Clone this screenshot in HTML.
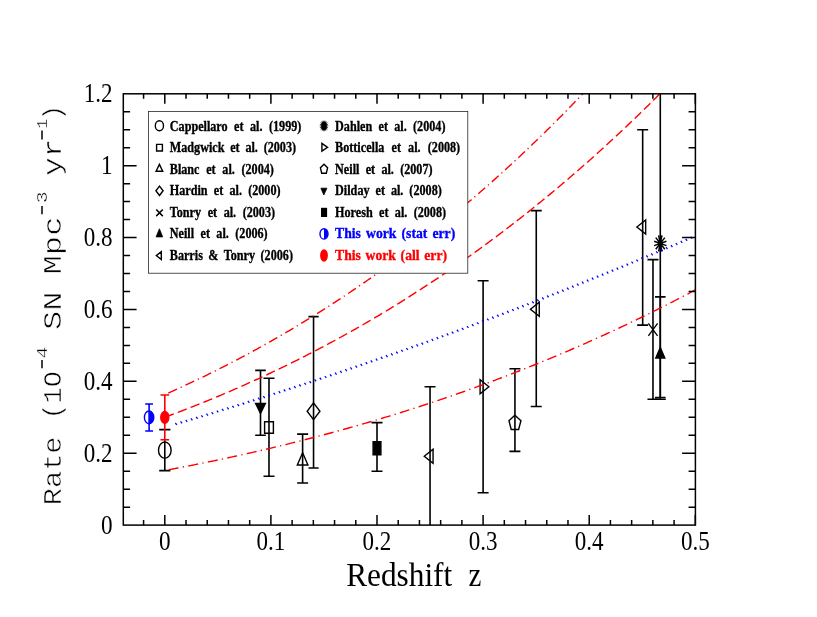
<!DOCTYPE html>
<html><head><meta charset="utf-8"><title>SN rate</title>
<style>html,body{margin:0;padding:0;background:#fff;}svg{display:block;will-change:transform;}text{font-family:"Liberation Serif",serif;}.m{font-family:"Liberation Mono",monospace;}</style></head><body>
<svg width="817" height="617" viewBox="0 0 817 617">
<rect width="817" height="617" fill="#fff"/>
<defs><clipPath id="cp"><rect x="123.3" y="93.8" width="572.1" height="431.3"/></clipPath></defs>
<g stroke="#000" stroke-width="1.6" fill="none" clip-path="url(#cp)"><path d="M164.80,440.28 V470.58 M159.20,429.67 H170.40 M159.20,470.58 H170.40"/></g>
<ellipse cx="164.80" cy="450.13" rx="6.3" ry="8.2" fill="none" stroke="#000" stroke-width="1.4"/>
<g stroke="#00f" stroke-width="1.6" fill="none" clip-path="url(#cp)"><path d="M149.10,403.98 V430.93 M145.20,403.98 H153.00 M145.20,430.93 H153.00"/></g>
<ellipse cx="149.10" cy="417.38" rx="4.7" ry="6.4" fill="none" stroke="#00f" stroke-width="1.4"/>
<path d="M149.10,410.98 A4.7,6.4 0 0 1 149.10,423.78 Z" fill="#00f"/>
<g stroke="#f00" stroke-width="1.6" fill="none" clip-path="url(#cp)"><path d="M164.80,394.99 V439.70 M160.50,394.99 H169.10 M160.50,439.70 H169.10"/></g>
<ellipse cx="164.80" cy="417.38" rx="4.1" ry="6.0" fill="#f00" stroke="#f00" stroke-width="1.2"/>
<g stroke="#000" stroke-width="1.6" fill="none" clip-path="url(#cp)"><path d="M260.50,370.34 V435.28 M255.20,370.34 H265.80 M255.20,435.28 H265.80"/></g>
<path d="M255.60,403.49 L265.40,403.49 L260.50,413.49Z" fill="#000" stroke="#000" stroke-width="1.4" stroke-linejoin="miter"/>
<g stroke="#000" stroke-width="1.6" fill="none" clip-path="url(#cp)"><path d="M268.99,378.21 V476.22 M263.49,378.21 H274.49 M263.49,476.22 H274.49"/></g>
<path d="M264.59,421.68 L273.39,421.68 L273.39,433.28 L264.59,433.28Z" fill="none" stroke="#000" stroke-width="1.4" stroke-linejoin="miter"/>
<g stroke="#000" stroke-width="1.6" fill="none" clip-path="url(#cp)"><path d="M302.62,434.17 V483.05 M297.12,434.17 H308.12 M297.12,483.05 H308.12"/></g>
<path d="M302.62,452.82 L307.92,465.02 L297.32,465.02Z" fill="none" stroke="#000" stroke-width="1.4" stroke-linejoin="miter"/>
<g stroke="#000" stroke-width="1.6" fill="none" clip-path="url(#cp)"><path d="M313.55,316.64 V467.95 M308.45,316.64 H318.65 M308.45,467.95 H318.65"/></g>
<path d="M313.55,402.87 L319.95,411.27 L313.55,419.67 L307.15,411.27Z" fill="none" stroke="#000" stroke-width="1.4" stroke-linejoin="miter"/>
<g stroke="#000" stroke-width="1.6" fill="none" clip-path="url(#cp)"><path d="M377.00,422.67 V471.19 M371.50,422.67 H382.50 M371.50,471.19 H382.50"/></g>
<path d="M373.10,441.76 L380.90,441.76 L380.90,454.76 L373.10,454.76Z" fill="#000" stroke="#000" stroke-width="1.4" stroke-linejoin="miter"/>
<g stroke="#000" stroke-width="1.6" fill="none" clip-path="url(#cp)"><path d="M430.05,386.72 V543.07 M424.55,386.72 H435.55 M424.55,543.07 H435.55"/></g>
<path d="M424.25,456.27 L433.05,449.27 L433.05,463.27Z" fill="none" stroke="#000" stroke-width="1.4" stroke-linejoin="miter"/>
<g stroke="#000" stroke-width="1.6" fill="none" clip-path="url(#cp)"><path d="M536.26,210.61 V406.49 M530.76,210.61 H541.76 M530.76,406.49 H541.76"/></g>
<path d="M530.46,309.31 L539.26,302.31 L539.26,316.31Z" fill="none" stroke="#000" stroke-width="1.4" stroke-linejoin="miter"/>
<g stroke="#000" stroke-width="1.6" fill="none" clip-path="url(#cp)"><path d="M642.67,129.74 V325.08 M637.17,129.74 H648.17 M637.17,325.08 H648.17"/></g>
<path d="M636.87,227.04 L645.67,220.04 L645.67,234.04Z" fill="none" stroke="#000" stroke-width="1.4" stroke-linejoin="miter"/>
<g stroke="#000" stroke-width="1.6" fill="none" clip-path="url(#cp)"><path d="M483.10,280.70 V492.75 M477.60,280.70 H488.60 M477.60,492.75 H488.60"/></g>
<path d="M488.90,386.72 L480.10,379.72 L480.10,393.72Z" fill="none" stroke="#000" stroke-width="1.4" stroke-linejoin="miter"/>
<g stroke="#000" stroke-width="1.6" fill="none" clip-path="url(#cp)"><path d="M514.93,368.75 V451.42 M509.43,368.75 H520.43 M509.43,451.42 H520.43"/></g>
<path d="M514.93,415.20 L520.92,420.66 L518.63,429.49 L511.23,429.49 L508.94,420.66Z" fill="none" stroke="#000" stroke-width="1.4" stroke-linejoin="miter"/>
<g stroke="#000" stroke-width="1.6" fill="none" clip-path="url(#cp)"><path d="M652.97,259.63 V399.30 M647.47,259.63 H658.47 M647.47,399.30 H658.47"/></g>
<path d="M648.37,323.38 L657.57,335.78 M648.37,335.78 L657.57,323.38" stroke="#000" stroke-width="1.3" fill="none"/>
<g stroke="#000" stroke-width="1.6" fill="none" clip-path="url(#cp)"><path d="M660.29,57.86 V399.30 M654.79,57.86 H665.79 M654.79,399.30 H665.79"/></g>
<path d="M654.11,241.31 L666.47,245.61 M655.76,237.59 L664.81,249.33 M658.63,235.44 L661.94,251.48 M661.94,235.44 L658.63,251.48 M664.81,237.59 L655.76,249.33 M666.47,241.31 L654.11,245.61 " stroke="#000" stroke-width="1.5" fill="none"/>
<ellipse cx="660.29" cy="243.46" rx="1.92" ry="3.32" fill="#000"/>
<g stroke="#000" stroke-width="1.6" fill="none" clip-path="url(#cp)"><path d="M660.29,296.87 V397.51 M654.99,296.87 H665.59 M654.99,397.51 H665.59"/></g>
<path d="M660.29,347.45 L664.79,358.05 L655.79,358.05Z" fill="#000" stroke="#000" stroke-width="1.4" stroke-linejoin="miter"/>
<g clip-path="url(#cp)" fill="none">
<path d="M168.27,393.09 L170.45,392.11 L172.64,391.13 L174.82,390.14 L177.00,389.15 M180.63,387.49 L181.77,386.96 M185.51,385.23 L187.68,384.22 L189.84,383.20 L192.00,382.18 L194.16,381.16 M197.75,379.44 L198.88,378.90 M202.59,377.11 L204.74,376.07 L206.88,375.02 L209.02,373.97 L211.15,372.92 M214.71,371.15 L215.83,370.60 M219.50,368.75 L221.62,367.68 L223.74,366.60 L225.86,365.52 L227.97,364.43 M231.49,362.62 L232.59,362.04 M236.23,360.14 L238.33,359.04 L240.42,357.93 L242.52,356.82 L244.61,355.71 M248.09,353.84 L249.18,353.25 M252.78,351.30 L254.85,350.17 L256.93,349.03 L259.00,347.89 L261.07,346.74 M264.51,344.83 L265.59,344.22 M269.14,342.22 L271.20,341.06 L273.25,339.89 L275.29,338.72 L277.34,337.55 M280.74,335.58 L281.81,334.96 M285.32,332.91 L287.35,331.72 L289.38,330.53 L291.40,329.33 L293.42,328.13 M296.79,326.12 L297.84,325.48 M301.31,323.38 L303.32,322.17 L305.32,320.94 L307.32,319.72 L309.32,318.49 M312.64,316.43 L313.68,315.78 M317.12,313.64 L319.10,312.39 L321.08,311.14 L323.05,309.89 L325.02,308.63 M328.31,306.53 L329.34,305.87 M332.73,303.68 L334.68,302.41 L336.64,301.13 L338.59,299.85 L340.54,298.57 M343.78,296.42 L344.80,295.75 M348.14,293.51 L350.08,292.22 L352.01,290.91 L353.93,289.61 L355.86,288.30 M359.06,286.12 L360.06,285.43 M363.37,283.15 L365.28,281.83 L367.18,280.50 L369.09,279.17 L370.99,277.84 M374.15,275.61 L375.14,274.91 M378.40,272.59 L380.29,271.24 L382.17,269.89 L384.05,268.54 L385.92,267.19 M389.04,264.92 L390.02,264.21 M393.24,261.85 L395.10,260.48 L396.96,259.10 L398.81,257.73 L400.67,256.35 M403.75,254.04 L404.71,253.32 M407.89,250.92 L409.73,249.53 L411.56,248.13 L413.39,246.73 L415.22,245.33 M418.26,242.99 L419.21,242.25 M422.35,239.82 L424.16,238.40 L425.97,236.99 L427.78,235.57 L429.58,234.14 M432.58,231.77 L433.52,231.02 M436.62,228.55 L438.41,227.11 L440.19,225.67 L441.97,224.23 L443.75,222.79 M446.71,220.38 L447.64,219.62 M450.70,217.11 L452.46,215.66 L454.22,214.20 L455.98,212.74 L457.74,211.28 M460.66,208.83 L461.58,208.06 M464.59,205.52 L466.33,204.05 L468.07,202.57 L469.81,201.09 L471.54,199.61 M474.42,197.13 L475.32,196.35 M478.30,193.78 L480.02,192.28 L481.73,190.79 L483.45,189.29 L485.16,187.79 M488.00,185.28 L488.89,184.50 M491.83,181.89 L493.52,180.38 L495.21,178.86 L496.90,177.35 L498.59,175.83 M501.40,173.29 L502.28,172.50 M505.17,169.86 L506.85,168.33 L508.52,166.80 L510.18,165.27 L511.85,163.73 M514.62,161.17 L515.48,160.36 M518.34,157.69 L519.99,156.15 L521.64,154.60 L523.28,153.05 L524.93,151.50 M527.66,148.91 L528.51,148.09 M531.34,145.40 L532.96,143.84 L534.59,142.27 L536.21,140.71 L537.83,139.14 M540.53,136.52 L541.37,135.70 M544.16,132.98 L545.76,131.40 L547.37,129.82 L548.97,128.24 L550.57,126.66 M553.23,124.02 L554.06,123.18 M556.81,120.44 L558.39,118.85 L559.97,117.25 L561.56,115.66 L563.13,114.06 M565.76,111.39 L566.58,110.55 M569.29,107.78 L570.85,106.18 L572.42,104.57 L573.98,102.96 L575.53,101.35 M578.12,98.65 L578.94,97.81 M581.61,95.01 L583.15,93.39 L584.70,91.77 L586.23,90.15 L587.77,88.52 M590.33,85.81 L591.13,84.96 M593.77,82.14 L595.29,80.51 L596.81,78.87 L598.33,77.23 L599.85,75.60 M602.37,72.86 L603.16,72.00 M605.77,69.16 L607.27,67.52 L608.77,65.87 L610.27,64.22 L611.77,62.57 M614.26,59.81 L615.04,58.95 M617.61,56.08 L619.10,54.43 L620.58,52.77 L622.06,51.11 L623.53,49.44 M625.99,46.67 L626.76,45.79 M629.30,42.91 L630.77,41.24 L632.23,39.57 L633.69,37.90 L635.15,36.23 M637.58,33.43 L638.34,32.55 M640.84,29.65 L642.29,27.97 L643.74,26.29 L645.18,24.60 L646.62,22.92 M649.01,20.10 L649.76,19.22 M652.24,16.30 L653.67,14.61 L655.09,12.91 L656.52,11.22 L657.94,9.52 M660.31,6.69 L661.05,5.80 M663.49,2.86 L664.90,1.16 L666.31,-0.54 L667.71,-2.25 L669.12,-3.95 M671.45,-6.80 L672.19,-7.70 M674.60,-10.65 L675.99,-12.37 L677.38,-14.08 L678.77,-15.79 L680.16,-17.51 M682.47,-20.37 L683.19,-21.27 M685.57,-24.25 L686.95,-25.97 L688.32,-27.69 L689.69,-29.42 L691.06,-31.14 M693.34,-34.02 L694.05,-34.93" stroke="#f00" stroke-width="1.4"/>
<path d="M164.80,417.28 L167.04,416.45 L169.28,415.62 L171.51,414.78 L173.75,413.95 M177.75,412.44 L179.98,411.59 L182.20,410.73 L184.43,409.88 L186.65,409.02 M190.62,407.47 L192.84,406.60 L195.05,405.72 L197.27,404.84 L199.48,403.96 M203.43,402.37 L205.63,401.48 L207.83,400.58 L210.03,399.68 L212.23,398.78 M216.16,397.15 L218.35,396.24 L220.54,395.32 L222.73,394.40 L224.91,393.47 M228.82,391.80 L230.99,390.87 L233.17,389.93 L235.34,388.98 L237.51,388.03 M241.39,386.33 L243.56,385.37 L245.72,384.41 L247.88,383.44 L250.03,382.47 M253.89,380.73 L256.04,379.75 L258.19,378.77 L260.33,377.78 L262.48,376.79 M266.31,375.01 L268.44,374.00 L270.58,373.00 L272.71,371.99 L274.84,370.98 M278.64,369.16 L280.77,368.14 L282.88,367.11 L285.00,366.08 L287.11,365.05 M290.89,363.19 L293.00,362.15 L295.11,361.10 L297.21,360.05 L299.31,359.00 M303.06,357.11 L305.15,356.04 L307.24,354.98 L309.33,353.91 L311.41,352.83 M315.14,350.90 L317.21,349.82 L319.29,348.73 L321.36,347.64 L323.43,346.54 M327.13,344.58 L329.19,343.47 L331.25,342.36 L333.30,341.25 L335.36,340.14 M339.03,338.14 L341.08,337.01 L343.12,335.89 L345.16,334.76 L347.20,333.62 M350.84,331.58 L352.87,330.44 L354.90,329.29 L356.92,328.14 L358.95,326.99 M362.56,324.92 L364.58,323.76 L366.59,322.59 L368.60,321.42 L370.60,320.25 M374.19,318.14 L376.19,316.96 L378.19,315.78 L380.18,314.59 L382.17,313.40 M385.73,311.26 L387.71,310.06 L389.69,308.85 L391.67,307.65 L393.64,306.44 M397.17,304.26 L399.14,303.05 L401.10,301.83 L403.06,300.60 L405.02,299.37 M408.52,297.17 L410.47,295.93 L412.42,294.69 L414.36,293.45 L416.31,292.21 M419.78,289.97 L421.71,288.71 L423.64,287.46 L425.57,286.20 L427.50,284.94 M430.94,282.67 L432.86,281.40 L434.77,280.12 L436.69,278.85 L438.60,277.57 M442.01,275.27 L443.91,273.98 L445.81,272.69 L447.71,271.40 L449.60,270.10 M452.98,267.77 L454.87,266.47 L456.75,265.16 L458.63,263.85 L460.51,262.54 M463.86,260.18 L465.73,258.86 L467.60,257.54 L469.46,256.21 L471.32,254.88 M474.65,252.50 L476.50,251.16 L478.35,249.82 L480.20,248.48 L482.04,247.14 M485.34,244.72 L487.18,243.37 L489.01,242.02 L490.84,240.66 L492.67,239.30 M495.94,236.86 L497.76,235.49 L499.58,234.12 L501.39,232.75 L503.20,231.37 M506.44,228.91 L508.25,227.52 L510.05,226.14 L511.85,224.75 L513.64,223.37 M516.85,220.87 L518.64,219.47 L520.42,218.08 L522.21,216.68 L523.99,215.27 M527.17,212.75 L528.94,211.34 L530.71,209.93 L532.48,208.51 L534.24,207.10 M537.39,204.55 L539.15,203.13 L540.90,201.70 L542.65,200.27 L544.40,198.84 M547.53,196.27 L549.27,194.84 L551.00,193.40 L552.74,191.96 L554.47,190.51 M557.57,187.92 L559.29,186.47 L561.01,185.02 L562.73,183.56 L564.45,182.11 M567.52,179.49 L569.23,178.03 L570.93,176.56 L572.64,175.09 L574.34,173.62 M577.38,170.99 L579.07,169.51 L580.76,168.03 L582.45,166.55 L584.14,165.07 M587.15,162.41 L588.83,160.92 L590.51,159.43 L592.18,157.94 L593.85,156.45 M596.83,153.77 L598.50,152.27 L600.16,150.77 L601.82,149.26 L603.47,147.76 M606.43,145.06 L608.08,143.55 L609.72,142.03 L611.37,140.52 L613.01,139.00 M615.94,136.28 L617.57,134.76 L619.20,133.23 L620.83,131.71 L622.45,130.18 M625.36,127.44 L626.98,125.90 L628.59,124.37 L630.21,122.83 L631.82,121.29 M634.70,118.53 L636.30,116.99 L637.90,115.44 L639.50,113.90 L641.10,112.35 M643.95,109.57 L645.54,108.01 L647.12,106.46 L648.71,104.90 L650.29,103.34 M653.12,100.54 L654.69,98.98 L656.26,97.41 L657.83,95.84 L659.40,94.27 M662.20,91.46 L663.76,89.88 L665.32,88.31 L666.88,86.73 L668.43,85.15 M671.21,82.32 L672.75,80.74 L674.30,79.15 L675.84,77.56 L677.38,75.98 M680.13,73.13 L681.66,71.53 L683.19,69.94 L684.72,68.34 L686.25,66.74 M688.98,63.88 L690.49,62.28 L692.01,60.67 L693.53,59.07 L695.04,57.46" stroke="#f00" stroke-width="1.4"/>
<path d="M168.70,469.74 L170.67,469.37 L172.64,469.00 L174.61,468.63 L176.58,468.25 L178.55,467.88 M182.79,467.06 L184.06,466.81 M188.29,465.99 L190.26,465.60 L192.22,465.21 L194.19,464.82 L196.15,464.43 L198.12,464.04 M202.34,463.18 L203.61,462.93 M207.83,462.06 L209.79,461.66 L211.75,461.25 L213.71,460.84 L215.67,460.44 L217.63,460.02 M221.85,459.13 L223.11,458.87 M227.32,457.96 L229.28,457.54 L231.23,457.12 L233.19,456.69 L235.14,456.27 L237.09,455.84 M241.30,454.91 L242.55,454.63 M246.76,453.69 L248.71,453.25 L250.65,452.81 L252.60,452.36 L254.55,451.92 L256.50,451.47 M260.69,450.50 L261.94,450.21 M266.13,449.23 L268.08,448.78 L270.02,448.32 L271.96,447.85 L273.90,447.39 L275.84,446.93 M280.02,445.92 L281.27,445.61 M285.45,444.60 L287.38,444.12 L289.32,443.64 L291.26,443.16 L293.19,442.68 L295.13,442.20 M299.29,441.15 L300.53,440.83 M304.69,439.77 L306.63,439.28 L308.56,438.78 L310.48,438.28 L312.41,437.78 L314.34,437.28 M318.49,436.19 L319.73,435.86 M323.87,434.76 L325.80,434.25 L327.72,433.74 L329.64,433.22 L331.56,432.70 L333.49,432.18 M337.62,431.05 L338.85,430.71 M342.98,429.57 L344.90,429.03 L346.81,428.50 L348.73,427.96 L350.64,427.42 L352.56,426.88 M356.67,425.71 L357.90,425.36 M362.01,424.18 L363.92,423.63 L365.83,423.07 L367.74,422.52 L369.64,421.96 L371.55,421.40 M375.65,420.19 L376.87,419.82 M380.97,418.60 L382.87,418.03 L384.76,417.45 L386.66,416.88 L388.56,416.30 L390.46,415.72 M394.54,414.47 L395.76,414.09 M399.83,412.82 L401.72,412.23 L403.62,411.64 L405.50,411.05 L407.39,410.45 L409.28,409.85 M413.34,408.55 L414.56,408.16 M418.61,406.86 L420.50,406.25 L422.38,405.63 L424.26,405.02 L426.14,404.40 L428.02,403.78 M432.06,402.45 L433.27,402.04 M437.30,400.69 L439.18,400.06 L441.05,399.43 L442.92,398.80 L444.79,398.16 L446.66,397.52 M450.68,396.14 L451.88,395.73 M455.90,394.33 L457.76,393.68 L459.62,393.03 L461.49,392.38 L463.35,391.72 L465.21,391.06 M469.21,389.64 L470.40,389.21 M474.39,387.78 L476.25,387.11 L478.10,386.44 L479.95,385.76 L481.80,385.09 L483.65,384.41 M487.63,382.94 L488.82,382.50 M492.79,381.03 L494.63,380.34 L496.47,379.65 L498.32,378.95 L500.15,378.26 L501.99,377.56 M505.95,376.05 L507.13,375.60 M511.08,374.08 L512.91,373.37 L514.74,372.66 L516.57,371.95 L518.40,371.23 L520.23,370.52 M524.16,368.96 L525.33,368.50 M529.26,366.94 L531.08,366.21 L532.90,365.48 L534.72,364.75 L536.54,364.01 L538.35,363.27 M542.26,361.68 L543.43,361.20 M547.33,359.60 L549.14,358.85 L550.95,358.10 L552.75,357.35 L554.56,356.60 L556.36,355.84 M560.25,354.21 L561.41,353.72 M565.28,352.07 L567.08,351.30 L568.88,350.53 L570.67,349.76 L572.47,348.99 L574.26,348.21 M578.12,346.54 L579.27,346.03 M583.12,344.35 L584.90,343.56 L586.69,342.77 L588.47,341.98 L590.25,341.19 L592.03,340.39 M595.87,338.68 L597.01,338.16 M600.83,336.43 L602.61,335.63 L604.38,334.82 L606.15,334.01 L607.92,333.20 L609.69,332.38 M613.49,330.62 L614.63,330.10 M618.42,328.33 L620.18,327.50 L621.94,326.68 L623.70,325.85 L625.46,325.02 L627.22,324.18 M630.99,322.39 L632.12,321.85 M635.89,320.04 L637.64,319.19 L639.38,318.35 L641.13,317.50 L642.87,316.65 L644.62,315.80 M648.36,313.96 L649.48,313.41 M653.22,311.56 L654.96,310.70 L656.69,309.83 L658.43,308.97 L660.16,308.10 L661.89,307.23 M665.61,305.35 L666.72,304.79 M670.43,302.90 L672.15,302.02 L673.87,301.14 L675.59,300.25 L677.31,299.37 L679.02,298.48 M682.72,296.56 L683.82,295.99 M687.50,294.06 L689.45,293.03 L691.40,292.00 L693.35,290.97 L695.30,289.94" stroke="#f00" stroke-width="1.4"/>
<path d="M175.34,423.01 L176.84,424.91 M180.54,421.47 L182.04,423.37 M185.73,419.93 L187.23,421.83 M190.91,418.39 L192.41,420.29 M196.10,416.84 L197.60,418.74 M201.28,415.28 L202.78,417.18 M206.46,413.71 L207.96,415.61 M211.64,412.14 L213.14,414.04 M216.82,410.56 L218.32,412.46 M221.99,408.98 L223.49,410.88 M227.16,407.39 L228.66,409.29 M232.32,405.80 L233.82,407.70 M237.49,404.20 L238.99,406.10 M242.65,402.59 L244.15,404.49 M247.81,400.98 L249.31,402.88 M252.96,399.36 L254.46,401.26 M258.12,397.73 L259.62,399.63 M263.27,396.10 L264.77,398.00 M268.42,394.46 L269.92,396.36 M273.56,392.82 L275.06,394.72 M278.70,391.17 L280.20,393.07 M283.84,389.51 L285.34,391.41 M288.98,387.85 L290.48,389.75 M294.11,386.18 L295.61,388.08 M299.24,384.51 L300.74,386.41 M304.37,382.83 L305.87,384.73 M309.50,381.15 L311.00,383.05 M314.62,379.45 L316.12,381.35 M319.74,377.76 L321.24,379.66 M324.86,376.05 L326.36,377.95 M329.97,374.35 L331.47,376.25 M335.08,372.63 L336.58,374.53 M340.19,370.91 L341.69,372.81 M345.30,369.18 L346.80,371.08 M350.40,367.45 L351.90,369.35 M355.50,365.71 L357.00,367.61 M360.60,363.97 L362.10,365.87 M365.69,362.22 L367.19,364.12 M370.78,360.47 L372.28,362.37 M375.87,358.71 L377.37,360.61 M380.96,356.94 L382.46,358.84 M386.04,355.17 L387.54,357.07 M391.12,353.39 L392.62,355.29 M396.20,351.60 L397.70,353.50 M401.27,349.81 L402.77,351.71 M406.34,348.02 L407.84,349.92 M411.41,346.22 L412.91,348.12 M416.48,344.41 L417.98,346.31 M421.54,342.60 L423.04,344.50 M426.60,340.78 L428.10,342.68 M431.66,338.96 L433.16,340.86 M436.71,337.13 L438.21,339.03 M441.76,335.30 L443.26,337.20 M446.81,333.46 L448.31,335.36 M451.86,331.61 L453.36,333.51 M456.90,329.76 L458.40,331.66 M461.94,327.90 L463.44,329.80 M466.97,326.04 L468.47,327.94 M472.01,324.17 L473.51,326.07 M477.04,322.30 L478.54,324.20 M482.07,320.42 L483.57,322.32 M487.09,318.54 L488.59,320.44 M492.11,316.65 L493.61,318.55 M497.13,314.75 L498.63,316.65 M502.15,312.85 L503.65,314.75 M507.16,310.95 L508.66,312.85 M512.17,309.03 L513.67,310.93 M517.18,307.12 L518.68,309.02 M522.18,305.20 L523.68,307.10 M527.18,303.27 L528.68,305.17 M532.18,301.34 L533.68,303.24 M537.18,299.40 L538.68,301.30 M542.17,297.45 L543.67,299.35 M547.16,295.51 L548.66,297.41 M552.14,293.55 L553.64,295.45 M557.13,291.59 L558.63,293.49 M562.11,289.63 L563.61,291.53 M567.08,287.66 L568.58,289.56 M572.06,285.68 L573.56,287.58 M577.03,283.70 L578.53,285.60 M582.00,281.72 L583.50,283.62 M586.96,279.73 L588.46,281.63 M591.93,277.73 L593.43,279.63 M596.88,275.73 L598.38,277.63 M601.84,273.72 L603.34,275.62 M606.79,271.71 L608.29,273.61 M611.74,269.69 L613.24,271.59 M616.69,267.67 L618.19,269.57 M621.64,265.65 L623.14,267.55 M626.58,263.61 L628.08,265.51 M631.51,261.58 L633.01,263.48 M636.45,259.53 L637.95,261.43 M641.38,257.49 L642.88,259.39 M646.31,255.44 L647.81,257.34 M651.24,253.38 L652.74,255.28 M656.16,251.32 L657.66,253.22 M661.08,249.25 L662.58,251.15 M666.00,247.18 L667.50,249.08 M670.91,245.10 L672.41,247.00 M675.82,243.02 L677.32,244.92 M680.73,240.93 L682.23,242.83 M685.63,238.84 L687.13,240.74 M690.54,236.74 L692.04,238.64 " stroke="#00f" stroke-width="1.25"/>
</g>
<g stroke="#000" stroke-width="1.5" fill="none">
<rect x="123.3" y="93.8" width="572.1" height="431.3"/>
<path d="M143.58,525.1 v-5 M143.58,93.8 v5 M164.80,525.1 v-10 M164.80,93.8 v10 M186.02,525.1 v-5 M186.02,93.8 v5 M207.24,525.1 v-5 M207.24,93.8 v5 M228.46,525.1 v-5 M228.46,93.8 v5 M249.68,525.1 v-5 M249.68,93.8 v5 M270.90,525.1 v-10 M270.90,93.8 v10 M292.12,525.1 v-5 M292.12,93.8 v5 M313.34,525.1 v-5 M313.34,93.8 v5 M334.56,525.1 v-5 M334.56,93.8 v5 M355.78,525.1 v-5 M355.78,93.8 v5 M377.00,525.1 v-10 M377.00,93.8 v10 M398.22,525.1 v-5 M398.22,93.8 v5 M419.44,525.1 v-5 M419.44,93.8 v5 M440.66,525.1 v-5 M440.66,93.8 v5 M461.88,525.1 v-5 M461.88,93.8 v5 M483.10,525.1 v-10 M483.10,93.8 v10 M504.32,525.1 v-5 M504.32,93.8 v5 M525.54,525.1 v-5 M525.54,93.8 v5 M546.76,525.1 v-5 M546.76,93.8 v5 M567.98,525.1 v-5 M567.98,93.8 v5 M589.20,525.1 v-10 M589.20,93.8 v10 M610.42,525.1 v-5 M610.42,93.8 v5 M631.64,525.1 v-5 M631.64,93.8 v5 M652.86,525.1 v-5 M652.86,93.8 v5 M674.08,525.1 v-5 M674.08,93.8 v5 M695.30,525.1 v-10 M695.30,93.8 v10 M123.3,507.13 h6.8 M695.4,507.13 h-6.8 M123.3,489.16 h6.8 M695.4,489.16 h-6.8 M123.3,471.19 h6.8 M695.4,471.19 h-6.8 M123.3,453.22 h13.3 M695.4,453.22 h-13.3 M123.3,435.25 h6.8 M695.4,435.25 h-6.8 M123.3,417.27 h6.8 M695.4,417.27 h-6.8 M123.3,399.30 h6.8 M695.4,399.30 h-6.8 M123.3,381.33 h13.3 M695.4,381.33 h-13.3 M123.3,363.36 h6.8 M695.4,363.36 h-6.8 M123.3,345.39 h6.8 M695.4,345.39 h-6.8 M123.3,327.42 h6.8 M695.4,327.42 h-6.8 M123.3,309.45 h13.3 M695.4,309.45 h-13.3 M123.3,291.48 h6.8 M695.4,291.48 h-6.8 M123.3,273.51 h6.8 M695.4,273.51 h-6.8 M123.3,255.54 h6.8 M695.4,255.54 h-6.8 M123.3,237.57 h13.3 M695.4,237.57 h-13.3 M123.3,219.60 h6.8 M695.4,219.60 h-6.8 M123.3,201.62 h6.8 M695.4,201.62 h-6.8 M123.3,183.65 h6.8 M695.4,183.65 h-6.8 M123.3,165.68 h13.3 M695.4,165.68 h-13.3 M123.3,147.71 h6.8 M695.4,147.71 h-6.8 M123.3,129.74 h6.8 M695.4,129.74 h-6.8 M123.3,111.77 h6.8 M695.4,111.77 h-6.8 "/>
</g>
<text x="164.80" y="550.10" font-size="28.2" text-anchor="middle" textLength="11.6" lengthAdjust="spacingAndGlyphs" >0</text>
<text x="270.90" y="550.10" font-size="28.2" text-anchor="middle" textLength="28.8" lengthAdjust="spacingAndGlyphs" >0.1</text>
<text x="377.00" y="550.10" font-size="28.2" text-anchor="middle" textLength="28.8" lengthAdjust="spacingAndGlyphs" >0.2</text>
<text x="483.10" y="550.10" font-size="28.2" text-anchor="middle" textLength="28.8" lengthAdjust="spacingAndGlyphs" >0.3</text>
<text x="589.20" y="550.10" font-size="28.2" text-anchor="middle" textLength="28.8" lengthAdjust="spacingAndGlyphs" >0.4</text>
<text x="695.30" y="550.10" font-size="28.2" text-anchor="middle" textLength="28.8" lengthAdjust="spacingAndGlyphs" >0.5</text>
<text x="112.60" y="533.50" font-size="28.2" text-anchor="end" textLength="11.6" lengthAdjust="spacingAndGlyphs" >0</text>
<text x="112.60" y="461.62" font-size="28.2" text-anchor="end" textLength="28.8" lengthAdjust="spacingAndGlyphs" >0.2</text>
<text x="112.60" y="389.73" font-size="28.2" text-anchor="end" textLength="28.8" lengthAdjust="spacingAndGlyphs" >0.4</text>
<text x="112.60" y="317.85" font-size="28.2" text-anchor="end" textLength="28.8" lengthAdjust="spacingAndGlyphs" >0.6</text>
<text x="112.60" y="245.97" font-size="28.2" text-anchor="end" textLength="28.8" lengthAdjust="spacingAndGlyphs" >0.8</text>
<text x="112.60" y="174.08" font-size="28.2" text-anchor="end" textLength="11.6" lengthAdjust="spacingAndGlyphs" >1</text>
<text x="112.60" y="102.20" font-size="28.2" text-anchor="end" textLength="28.8" lengthAdjust="spacingAndGlyphs" >1.2</text>
<text x="346.20" y="586.00" font-size="33.8" text-anchor="start" textLength="106" lengthAdjust="spacingAndGlyphs" >Redshift</text>
<text x="468.40" y="586.00" font-size="33.8" text-anchor="start" textLength="12.9" lengthAdjust="spacingAndGlyphs" >z</text>
<g transform="translate(61.2,0) rotate(-90)">
<text class="m" x="-505.20" y="0" font-size="25" stroke="#fff" stroke-width="0.55" textLength="68.70" lengthAdjust="spacingAndGlyphs">Rate</text>
<text class="m" x="-419.60" y="0" font-size="25" stroke="#fff" stroke-width="0.55" textLength="48.60" lengthAdjust="spacingAndGlyphs">(1O</text>
<text class="m" x="-358.60" y="-14.3" font-size="14.5" stroke="#fff" stroke-width="0.35" textLength="11.80" lengthAdjust="spacingAndGlyphs">4</text>
<text class="m" x="-330.00" y="0" font-size="25" stroke="#fff" stroke-width="0.55" textLength="38.40" lengthAdjust="spacingAndGlyphs">SN</text>
<text class="m" x="-274.50" y="0" font-size="25" stroke="#fff" stroke-width="0.55" textLength="58.00" lengthAdjust="spacingAndGlyphs">Mpc</text>
<text class="m" x="-203.30" y="-14.3" font-size="14.5" stroke="#fff" stroke-width="0.35" textLength="11.80" lengthAdjust="spacingAndGlyphs">3</text>
<text class="m" x="-176.00" y="0" font-size="25" stroke="#fff" stroke-width="0.55" textLength="37.50" lengthAdjust="spacingAndGlyphs">yr</text>
<text class="m" x="-128.80" y="-14.3" font-size="14.5" stroke="#fff" stroke-width="0.35" textLength="10.00" lengthAdjust="spacingAndGlyphs">1</text>
<text class="m" x="-120.70" y="0" font-size="25" stroke="#fff" stroke-width="0.55" textLength="16.10" lengthAdjust="spacingAndGlyphs">)</text>
<path d="M-368.30,-19.2 H-360.00" stroke="#000" stroke-width="1.5" fill="none"/>
<path d="M-214.20,-19.2 H-206.00" stroke="#000" stroke-width="1.5" fill="none"/>
<path d="M-139.40,-19.2 H-130.40" stroke="#000" stroke-width="1.5" fill="none"/>
</g>
<rect x="148.6" y="111.6" width="319.20000000000005" height="161.6" fill="#fff" stroke="#1a1a1a" stroke-width="0.75"/>
<text transform="translate(169.8,130.60) scale(0.8,1)" font-size="15.2" font-weight="bold" fill="#000" stroke="#000" stroke-width="0.35" word-spacing="4.29">Cappellaro et al. (1999)</text>
<text transform="translate(169.8,152.10) scale(0.8,1)" font-size="15.2" font-weight="bold" fill="#000" stroke="#000" stroke-width="0.35" word-spacing="3.40">Madgwick et al. (2003)</text>
<text transform="translate(169.8,173.60) scale(0.8,1)" font-size="15.2" font-weight="bold" fill="#000" stroke="#000" stroke-width="0.35" word-spacing="4.56">Blanc et al. (2004)</text>
<text transform="translate(169.8,195.10) scale(0.8,1)" font-size="15.2" font-weight="bold" fill="#000" stroke="#000" stroke-width="0.35" word-spacing="3.97">Hardin et al. (2000)</text>
<text transform="translate(169.8,216.60) scale(0.8,1)" font-size="15.2" font-weight="bold" fill="#000" stroke="#000" stroke-width="0.35" word-spacing="4.40">Tonry et al. (2003)</text>
<text transform="translate(169.8,238.10) scale(0.8,1)" font-size="15.2" font-weight="bold" fill="#000" stroke="#000" stroke-width="0.35" word-spacing="4.23">Neill et al. (2006)</text>
<text transform="translate(169.8,259.60) scale(0.8,1)" font-size="15.2" font-weight="bold" fill="#000" stroke="#000" stroke-width="0.35" word-spacing="3.08">Barris &amp; Tonry (2006)</text>
<text transform="translate(335.1,130.60) scale(0.8,1)" font-size="15.2" font-weight="bold" fill="#000" stroke="#000" stroke-width="0.35" word-spacing="4.09">Dahlen et al. (2004)</text>
<text transform="translate(335.1,152.10) scale(0.8,1)" font-size="15.2" font-weight="bold" fill="#000" stroke="#000" stroke-width="0.35" word-spacing="5.16">Botticella et al. (2008)</text>
<text transform="translate(335.1,173.60) scale(0.8,1)" font-size="15.2" font-weight="bold" fill="#000" stroke="#000" stroke-width="0.35" word-spacing="4.06">Neill et al. (2007)</text>
<text transform="translate(335.1,195.10) scale(0.8,1)" font-size="15.2" font-weight="bold" fill="#000" stroke="#000" stroke-width="0.35" word-spacing="3.67">Dilday et al. (2008)</text>
<text transform="translate(335.1,216.60) scale(0.8,1)" font-size="15.2" font-weight="bold" fill="#000" stroke="#000" stroke-width="0.35" word-spacing="4.15">Horesh et al. (2008)</text>
<text transform="translate(335.1,238.10) scale(0.9,1)" font-size="15.2" font-weight="bold" fill="#00f" stroke="#00f" stroke-width="0.35" word-spacing="1.91">This work (stat err)</text>
<text transform="translate(335.1,259.60) scale(0.9,1)" font-size="15.2" font-weight="bold" fill="#f00" stroke="#f00" stroke-width="0.35" word-spacing="1.40">This work (all err)</text>
<ellipse cx="159.40" cy="125.70" rx="4.1" ry="5.0" fill="none" stroke="#000" stroke-width="1.4"/>
<path d="M156.60,144.40 L162.40,144.40 L162.40,151.00 L156.60,151.00Z" fill="none" stroke="#000" stroke-width="1.4" stroke-linejoin="miter"/>
<path d="M159.40,164.40 L162.70,171.20 L156.10,171.20Z" fill="none" stroke="#000" stroke-width="1.4" stroke-linejoin="miter"/>
<path d="M159.50,186.10 L163.10,190.80 L159.50,195.50 L155.90,190.80Z" fill="none" stroke="#000" stroke-width="1.4" stroke-linejoin="miter"/>
<path d="M156.20,209.50 L162.80,216.10 M156.20,216.10 L162.80,209.50" stroke="#000" stroke-width="1.5" fill="none"/>
<path d="M159.40,228.80 L162.70,236.90 L156.10,236.90Z" fill="#000" stroke="#000" stroke-width="0.8" stroke-linejoin="miter"/>
<path d="M156.30,255.60 L161.30,251.60 L161.30,259.60Z" fill="none" stroke="#000" stroke-width="1.4" stroke-linejoin="miter"/>
<ellipse cx="324" cy="125.9" rx="2.9" ry="4.4" fill="#000"/>
<path d="M326.20,125.90 L328.30,125.90 M326.09,127.01 L328.09,127.57 M325.78,128.02 L327.48,129.07 M325.29,128.81 L326.53,130.27 M324.68,129.32 L325.33,131.04 M324.00,129.50 L324.00,131.30 M323.32,129.32 L322.67,131.04 M322.71,128.81 L321.47,130.27 M322.22,128.02 L320.52,129.07 M321.91,127.01 L319.91,127.57 M321.80,125.90 L319.70,125.90 M321.91,124.79 L319.91,124.23 M322.22,123.78 L320.52,122.73 M322.71,122.99 L321.47,121.53 M323.32,122.48 L322.67,120.76 M324.00,122.30 L324.00,120.50 M324.68,122.48 L325.33,120.76 M325.29,122.99 L326.53,121.53 M325.78,123.78 L327.48,122.73 M326.09,124.79 L328.09,124.23 " stroke="#000" stroke-width="0.7" fill="none"/>
<path d="M327.60,147.30 L321.90,143.40 L321.90,151.10Z" fill="none" stroke="#000" stroke-width="1.4" stroke-linejoin="miter"/>
<path d="M324.00,164.20 L327.60,167.80 L326.30,173.20 L321.70,173.20 L320.40,167.80Z" fill="none" stroke="#000" stroke-width="1.4" stroke-linejoin="miter"/>
<path d="M320.90,188.20 L326.90,188.20 L323.80,195.00Z" fill="#000" stroke="#000" stroke-width="0.8" stroke-linejoin="miter"/>
<rect x="321" y="207.8" width="6.1" height="9.2" fill="#000"/>
<ellipse cx="324.00" cy="233.90" rx="4.0" ry="5.2" fill="none" stroke="#00f" stroke-width="1.4"/>
<path d="M324.00,228.70 A4.0,5.2 0 0 1 324.00,239.10 Z" fill="#00f"/>
<ellipse cx="324" cy="255.5" rx="3.9" ry="6.2" fill="#f00"/>
</svg></body></html>
